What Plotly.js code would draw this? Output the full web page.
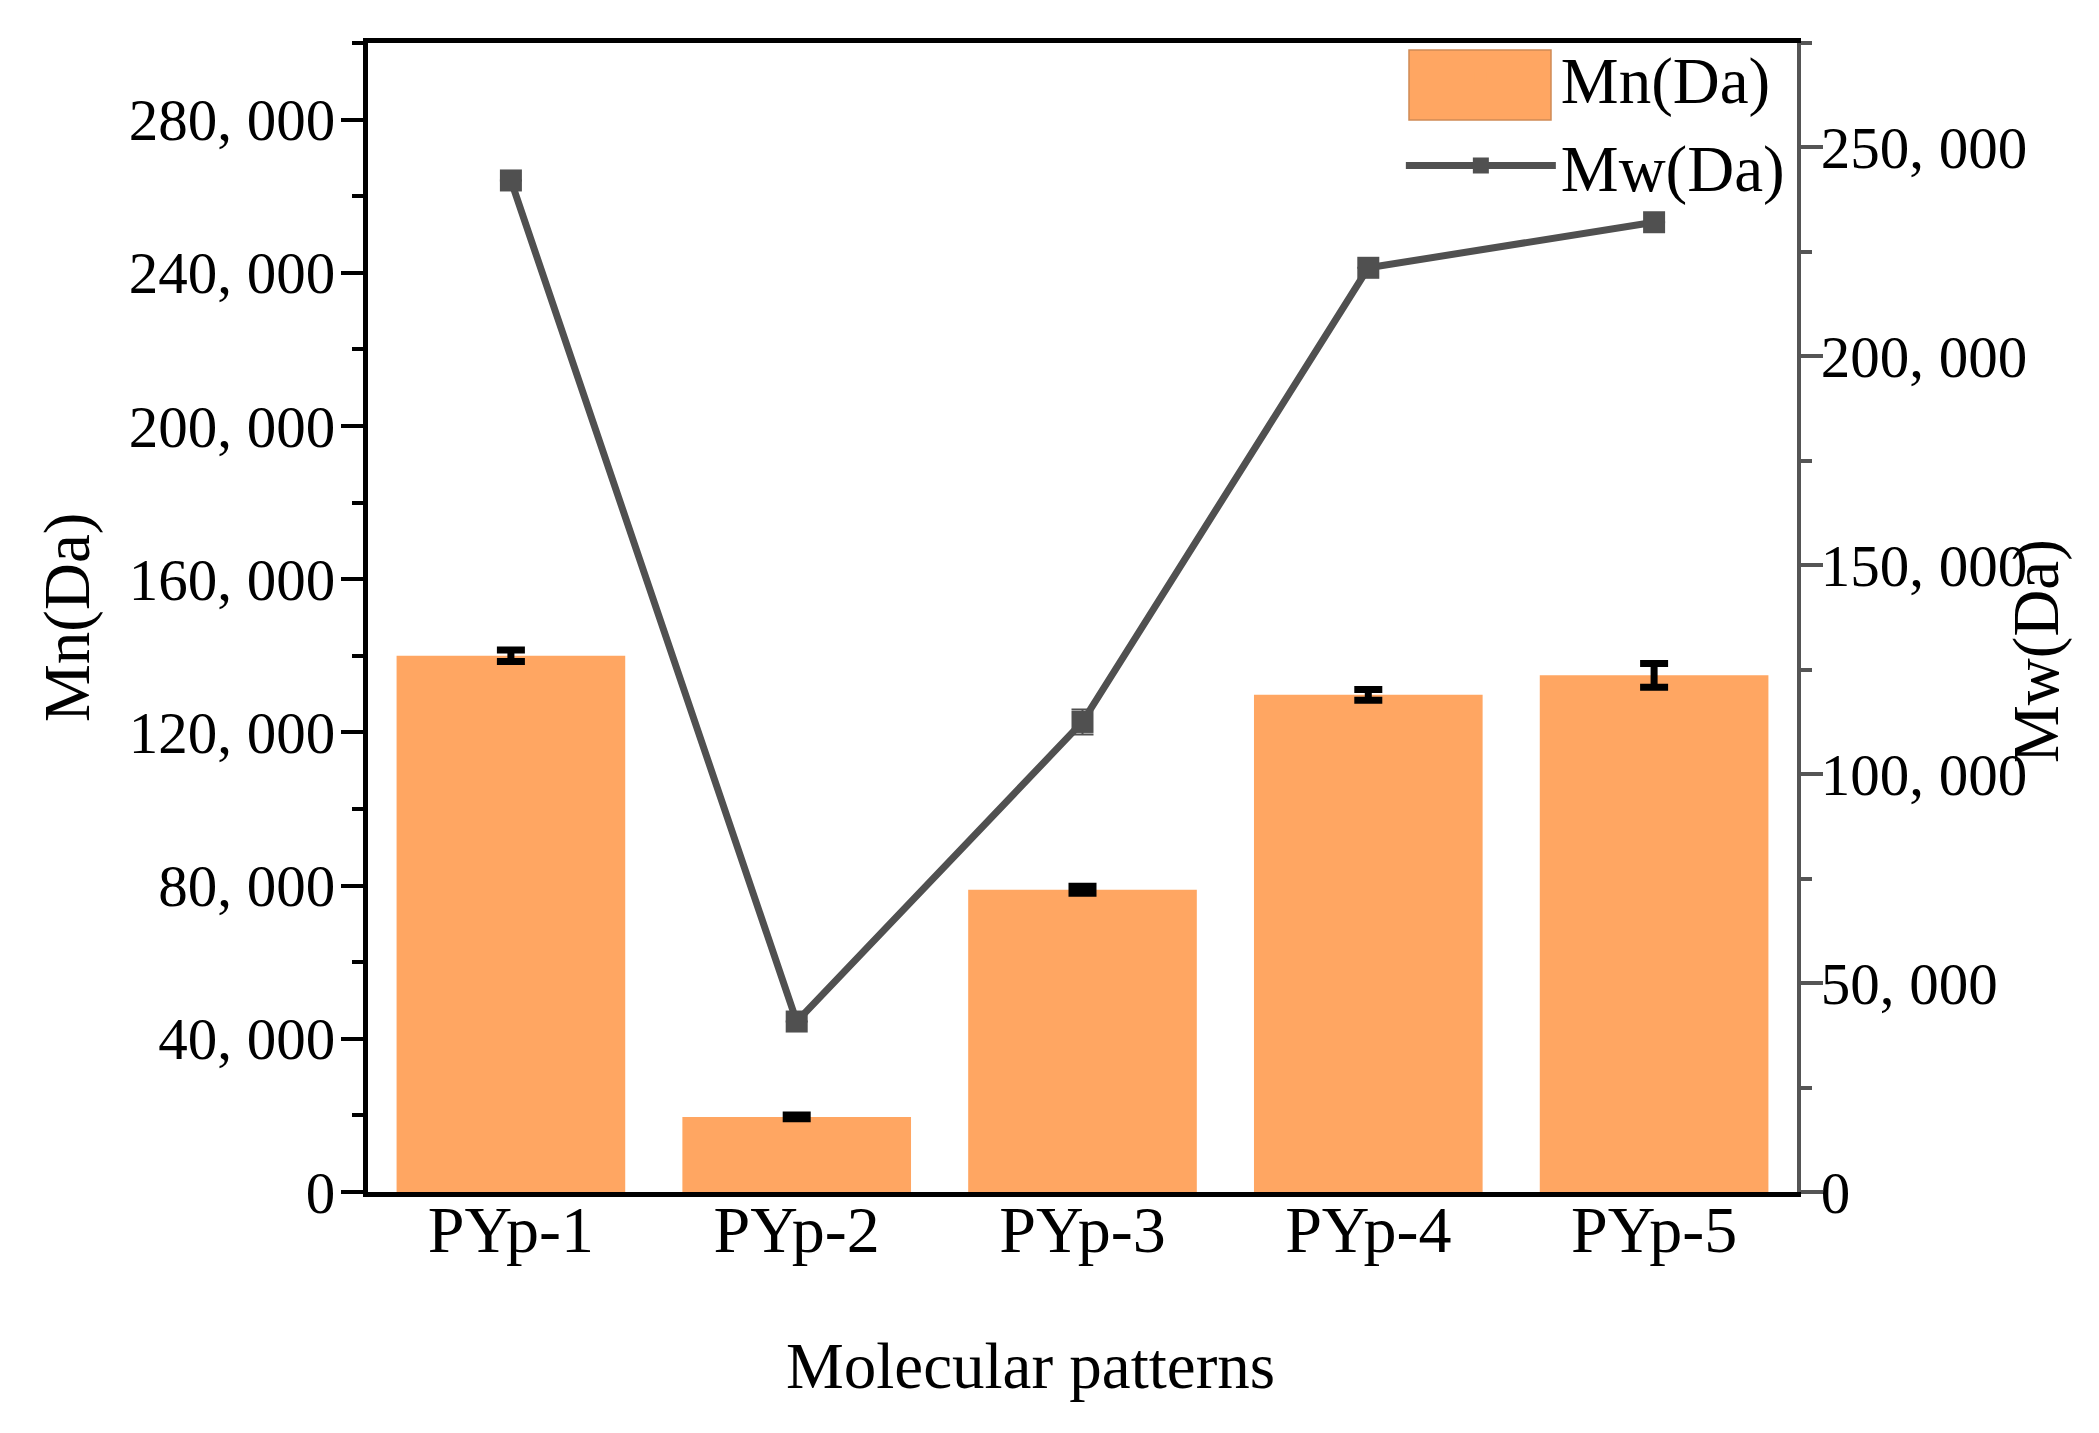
<!DOCTYPE html>
<html>
<head>
<meta charset="utf-8">
<script src="https://cdn.plot.ly/plotly-3.0.1.min.js"></script>
<style>
  html, body { margin: 0; padding: 0; background: #ffffff; }
  #chart { width: 2099px; height: 1433px; }
</style>
</head>
<body>
<div id="chart"></div>
<script>
// ---- data ----
const categories = ['PYp-1', 'PYp-2', 'PYp-3', 'PYp-4', 'PYp-5'];
const mnValues = [140000, 19600, 78900, 129800, 134900];
const mnErrors = [1500, 500, 900, 1400, 3100];
const mwValues = [242100, 40800, 112500, 221200, 232100];
const mwErrors = [0, 0, 3000, 0, 0];

const leftTickVals = [0, 40000, 80000, 120000, 160000, 200000, 240000, 280000];
const leftTickText = ['0', '40, 000', '80, 000', '120, 000', '160, 000', '200, 000', '240, 000', '280, 000'];
const rightTickVals = [0, 50000, 100000, 150000, 200000, 250000];
const rightTickText = ['0', '50, 000', '100, 000', '150, 000', '200, 000', '250, 000'];

const seriesNames = ['Mn(Da)', 'Mw(Da)'];
const xTitle = 'Molecular patterns';

// ---- styles ----
const FONT = 'Liberation Serif, Times New Roman, serif';
const barColor = '#FFA662';
const lineColor = '#505050';

const traces = [
  {
    type: 'bar',
    name: seriesNames[0],
    x: categories,
    y: mnValues,
    yaxis: 'y',
    marker: { color: barColor, line: { width: 0 } },
    error_y: { type: 'data', array: mnErrors, visible: true, color: '#000000', thickness: 7, width: 14 }
  },
  {
    type: 'scatter',
    mode: 'lines+markers',
    name: seriesNames[1],
    x: categories,
    y: mwValues,
    yaxis: 'y2',
    line: { color: lineColor, width: 7 },
    marker: { symbol: 'square', size: 22, color: lineColor },
    error_y: { type: 'data', array: mwErrors, visible: true, color: lineColor, thickness: 2, width: 11 }
  }
];

const plotL = 368, plotR = 1797, plotT = 43, plotB = 1192;
const pw = plotR - plotL, ph = plotB - plotT;
function px(x) { return (x - plotL) / pw; }
function py(y) { return (plotB - y) / ph; }

const layout = {
  width: 2099,
  height: 1433,
  paper_bgcolor: '#ffffff',
  plot_bgcolor: '#ffffff',
  margin: { l: plotL, r: 2099 - plotR, t: plotT, b: 1433 - plotB, pad: 0 },
  font: { family: FONT, color: '#000000', size: 58 },
  bargap: 0.2,
  showlegend: true,
  legend: {
    x: 0.995, y: 1.012, xanchor: 'right', yanchor: 'top',
    bgcolor: 'rgba(0,0,0,0)',
    font: { family: FONT, size: 65, color: '#000000' },
    itemwidth: 150,
    tracegroupgap: 0
  },
  xaxis: {
    type: 'category',
    range: [-0.5, 4.5],
    showline: true,
    linecolor: '#000000',
    linewidth: 5,
    mirror: true,
    ticks: '',
    showgrid: false,
    zeroline: false,
    tickfont: { family: FONT, size: 66, color: '#000000' },
    ticklabelstandoff: -24
  },
  yaxis: {
    range: [0, 300000],
    tickmode: 'array',
    tickvals: leftTickVals,
    ticktext: leftTickText,
    ticks: 'outside',
    ticklen: 22,
    tickwidth: 4,
    tickcolor: '#000000',
    minor: { tickmode: 'linear', tick0: 0, dtick: 20000, ticks: 'outside', ticklen: 11, tickwidth: 4, tickcolor: '#000000', showgrid: false },
    showline: true,
    linecolor: '#000000',
    linewidth: 5,
    showgrid: false,
    zeroline: false,
    tickfont: { family: FONT, size: 59, color: '#000000' },
    ticklabelstandoff: -6
  },
  yaxis2: {
    overlaying: 'y',
    side: 'right',
    range: [0, 275000],
    tickmode: 'array',
    tickvals: rightTickVals,
    ticktext: rightTickText,
    ticks: 'outside',
    ticklen: 22,
    tickwidth: 4,
    tickcolor: '#555555',
    minor: { tickmode: 'linear', tick0: 0, dtick: 25000, ticks: 'outside', ticklen: 11, tickwidth: 4, tickcolor: '#555555', showgrid: false },
    showline: true,
    linecolor: '#555555',
    linewidth: 4,
    showgrid: false,
    zeroline: false,
    tickfont: { family: FONT, size: 59, color: '#000000' },
    ticklabelstandoff: -14
  },
  shapes: [
    // enlarged legend swatch for the bar series (sits under the legend layer)
    {
      type: 'rect', xref: 'paper', yref: 'paper', layer: 'above',
      x0: px(1409), x1: px(1551), y0: py(120), y1: py(50),
      fillcolor: barColor, line: { color: '#D08A55', width: 1.5 }
    }
  ],
  annotations: [
    {
      text: seriesNames[0], xref: 'paper', yref: 'paper',
      x: px(67), y: py(618), xanchor: 'center', yanchor: 'middle',
      textangle: -90, showarrow: false,
      font: { family: FONT, size: 65, color: '#000000' }
    },
    {
      text: seriesNames[1], xref: 'paper', yref: 'paper',
      x: px(2036), y: py(651), xanchor: 'center', yanchor: 'middle',
      textangle: -90, showarrow: false,
      font: { family: FONT, size: 65, color: '#000000' }
    },
    {
      text: xTitle, xref: 'paper', yref: 'paper',
      x: px(1030), y: py(1366), xanchor: 'center', yanchor: 'middle',
      showarrow: false,
      font: { family: FONT, size: 65, color: '#000000' }
    }
  ]
};

Plotly.newPlot('chart', traces, layout, { displayModeBar: false, staticPlot: true });
</script>
</body>
</html>
